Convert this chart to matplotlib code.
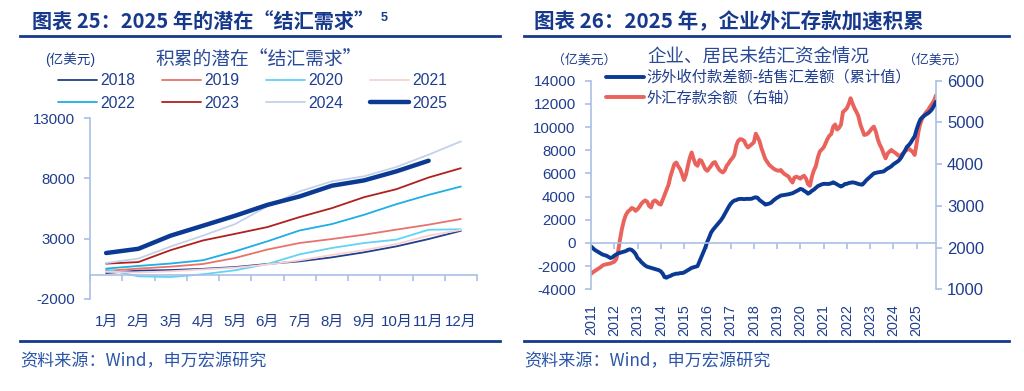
import numpy as np
import pandas as pd
import matplotlib
matplotlib.use('Agg')
import matplotlib.pyplot as plt
import matplotlib.dates as mdates
from matplotlib.lines import Line2D
from matplotlib.ticker import FixedLocator, FixedFormatter, NullFormatter

plt.rcParams['font.family'] = ['Liberation Sans', 'Noto Sans CJK SC']

# ---------------- data: left chart ----------------
months = ['1月', '2月', '3月', '4月', '5月', '6月', '7月', '8月', '9月', '10月', '11月', '12月']
y2018 = [150, 350, 400, 500, 650, 900, 1120, 1450, 1870, 2360, 2970, 3650]
y2019 = [330, 520, 680, 900, 1400, 2100, 2640, 2970, 3330, 3750, 4160, 4630]
y2020 = [450, -120, -180, 50, 380, 900, 1700, 2230, 2640, 2920, 3740, 3780]
y2021 = [250, 200, 300, 450, 600, 850, 1200, 1650, 2050, 2550, 3250, 3720]
y2022 = [520, 740, 940, 1210, 1950, 2780, 3680, 4210, 4980, 5860, 6630, 7320]
y2023 = [930, 1060, 2050, 2850, 3400, 3960, 4790, 5530, 6440, 7100, 8070, 8840]
y2024 = [980, 1350, 2350, 3250, 4210, 5680, 6920, 7750, 8170, 8940, 9960, 11060]
y2025 = [1810, 2160, 3250, 4070, 4900, 5800, 6500, 7390, 7830, 8580, 9460]
left_yticks = [-2000, 3000, 8000, 13000]

# ---------------- data: right chart (monthly, 2011-01 .. 2025-11) ----------------
net_receipts = [
    -300, -450, -600, -700, -800, -900, -1000, -1050, -1100, -1200, -1300, -1250,   # 2011
    -1100, -1000, -900, -850, -800, -750, -700, -600, -550, -600, -750, -950,       # 2012
    -1300, -1450, -1650, -1800, -1950, -2050, -2100, -2150, -2200, -2250, -2300, -2350,  # 2013
    -2450, -2650, -2950, -3000, -2900, -2850, -2750, -2700, -2650, -2650, -2600, -2600,  # 2014
    -2550, -2450, -2350, -2250, -2150, -2100, -2050, -2000, -1600, -1200, -800, -400,    # 2015
    100, 500, 900, 1150, 1350, 1550, 1750, 1950, 2200, 2500, 2800, 3100,            # 2016
    3370, 3550, 3660, 3700, 3780, 3800, 3800, 3780, 3800, 3800, 3800, 3820,         # 2017
    3900, 3940, 3900, 3700, 3580, 3450, 3310, 3350, 3400, 3480, 3650, 3780,         # 2018
    3900, 4000, 4090, 4120, 4150, 4170, 4200, 4250, 4290, 4380, 4470, 4550,         # 2019
    4660, 4620, 4500, 4400, 4250, 4350, 4500, 4600, 4750, 4900, 4980, 5050,         # 2020
    5100, 5100, 5090, 5100, 5150, 5230, 5150, 5050, 4950, 4870, 4950, 5090,         # 2021
    5100, 5170, 5200, 5230, 5200, 5150, 5090, 5050, 5030, 5200, 5400, 5550,         # 2022
    5700, 5850, 6000, 6050, 6090, 6120, 6150, 6170, 6300, 6420, 6510, 6620,         # 2023
    6780, 6900, 7000, 7140, 7350, 7660, 7950, 8290, 8450, 8660, 8950, 9200,         # 2024
    9800, 10300, 10660, 10850, 10980, 11100, 11200, 11350, 11550, 11850, 12170,     # 2025
]
fx_deposits = [
    1370, 1410, 1440, 1470, 1500, 1530, 1570, 1590, 1600, 1610, 1620, 1640,   # 2011
    1660, 1720, 1900, 2200, 2450, 2650, 2780, 2860, 2900, 2950, 2930, 2880,   # 2012
    2920, 2980, 3050, 3100, 3130, 3100, 3000, 2960, 3100, 3130, 3100, 3050,   # 2013
    3030, 3150, 3260, 3380, 3500, 3700, 3850, 4000, 4040, 3950, 3880, 3760,   # 2014
    3620, 3750, 3950, 4150, 4280, 4120, 4000, 3960, 4100, 4080, 3980, 3880,   # 2015
    3840, 3900, 3960, 4030, 4050, 3960, 3880, 3830, 3800, 3850, 3960, 4020,   # 2016
    4095, 4150, 4220, 4450, 4560, 4600, 4590, 4560, 4460, 4400, 4440, 4480,   # 2017
    4520, 4730, 4650, 4550, 4380, 4250, 4120, 4050, 3980, 3940, 3900, 3870,   # 2018
    3850, 3840, 3860, 3800, 3760, 3730, 3700, 3620, 3560, 3680, 3700, 3680,   # 2019
    3650, 3700, 3720, 3650, 3520, 3480, 3700, 3850, 3950, 4150, 4300, 4350,   # 2020
    4400, 4500, 4600, 4680, 4720, 4900, 4950, 4830, 4870, 4950, 5250, 5290,   # 2021
    5340, 5450, 5580, 5450, 5340, 5250, 5150, 4950, 4820, 4700, 4710, 4740,   # 2022
    4800, 4860, 4900, 4780, 4600, 4470, 4380, 4250, 4140, 4250, 4300, 4340,   # 2023
    4300, 4270, 4230, 4190, 4220, 4260, 4310, 4340, 4370, 4330, 4290, 4220,   # 2024
    4500, 4800, 4980, 5100, 5180, 5250, 5300, 5380, 5450, 5520, 5650,         # 2025
]
dates = pd.date_range('2011-01-01', periods=len(net_receipts), freq='MS')
right_left_ticks = list(range(-4000, 14001, 2000))
right_right_ticks = list(range(1000, 6001, 1000))

# ---------------- styles ----------------
W, H = 1024, 391
TC = '#1f3d8f'      # text colour
HC = '#17398c'      # header colour
AX = '#a9c0e6'      # axis colour
fig = plt.figure(figsize=(W / 100, H / 100), dpi=100)


def rect(x0, y0, x1, y1):
    return [x0 / W, 1 - y1 / H, (x1 - x0) / W, (y1 - y0) / H]


def fx(x):
    return x / W


def fy(y):
    return 1 - y / H


CJK = ['Noto Sans CJK SC', 'Liberation Sans']

# ---------------- headers ----------------
fig.text(fx(32), fy(22), '图表 25：2025 年的潜在“结汇需求”', family=CJK, fontsize=14.5,
         fontweight='bold', color=HC, va='center', ha='left')
fig.text(fx(381), fy(18), '5', fontsize=9, fontweight='bold', color=HC, va='center', ha='left')
fig.text(fx(534), fy(22), '图表 26：2025 年，企业外汇存款加速积累', family=CJK, fontsize=14.8,
         fontweight='bold', color=HC, va='center', ha='left')
for (a, b) in [(20, 500), (524, 1009)]:
    fig.add_artist(Line2D([fx(a), fx(b)], [fy(36), fy(36)], transform=fig.transFigure,
                          color=HC, lw=2))
    fig.add_artist(Line2D([fx(a), fx(b)], [fy(341), fy(341)], transform=fig.transFigure,
                          color=HC, lw=2))
fig.text(fx(20), fy(361), '资料来源：Wind，申万宏源研究', family=CJK, fontsize=12.3,
         color='#2b55a8', va='center', ha='left')
fig.text(fx(524), fy(361), '资料来源：Wind，申万宏源研究', family=CJK, fontsize=12.3,
         color='#2b55a8', va='center', ha='left')

# ---------------- left chart ----------------
ax1 = fig.add_axes(rect(90, 118, 477, 299))
series = [
    ('2018', y2018, '#213f8e', 1.3),
    ('2019', y2019, '#e8736c', 1.3),
    ('2020', y2020, '#62d2f5', 1.3),
    ('2021', y2021, '#f7d2d2', 1.3),
    ('2022', y2022, '#1eaee6', 1.3),
    ('2023', y2023, '#b0201e', 1.3),
    ('2024', y2024, '#c3d2e8', 1.3),
    ('2025', y2025, '#0b3a94', 3.2),
]
handles = {}
for name, vals, col, lw in series:
    (ln,) = ax1.plot(np.arange(len(vals)), vals, color=col, lw=lw, label=name,
                     solid_capstyle='round')
    handles[name] = ln
ax1.set_xlim(-0.5, 11.5)
ax1.set_ylim(-2000, 13000)
ax1.set_yticks(left_yticks)
ax1.set_yticklabels([str(v) for v in left_yticks])
for s in ['top', 'right']:
    ax1.spines[s].set_visible(False)
ax1.spines['left'].set_color(AX)
ax1.spines['left'].set_linewidth(1.2)
ax1.spines['bottom'].set_position(('data', 0))
ax1.spines['bottom'].set_color(AX)
ax1.spines['bottom'].set_linewidth(1.2)
ax1.xaxis.set_major_locator(FixedLocator(np.arange(-0.5, 12, 1)))
ax1.xaxis.set_major_formatter(NullFormatter())
ax1.xaxis.set_minor_locator(FixedLocator(np.arange(12)))
ax1.xaxis.set_minor_formatter(FixedFormatter(months))
ax1.tick_params(axis='x', which='major', length=4, color=AX, width=1.2, direction='out')
ax1.tick_params(axis='x', which='minor', length=0, pad=29, labelsize=10.8, labelcolor=TC)
ax1.tick_params(axis='y', length=4, color=AX, width=1.2, pad=7, labelsize=10.8, labelcolor=TC)
ax1.patch.set_visible(False)

fig.text(fx(45), fy(60), '(亿美元)', fontsize=9.8, color=TC, va='center', ha='left')
fig.text(fx(155), fy(60), '积累的潜在“结汇需求”', family=CJK, fontsize=13.5, color='#2a4a98',
         va='center', ha='left')
order = ['2018', '2022', '2019', '2023', '2020', '2024', '2021', '2025']
fig.legend([handles[k] for k in order], order, ncol=4, loc='upper left',
           bbox_to_anchor=(fx(58), fy(73)), frameon=False, fontsize=11.3,
           handlelength=2.5, handletextpad=0.2, columnspacing=1.7, labelspacing=0.5,
           borderaxespad=0, borderpad=0, labelcolor=TC)

# ---------------- right chart ----------------
ax2 = fig.add_axes(rect(591, 80.7, 936, 289.3))
ax2r = ax2.twinx()
(lb,) = ax2.plot(dates, net_receipts, color='#0b3a94', lw=2.8, solid_capstyle='round')
(lr,) = ax2r.plot(dates, fx_deposits, color='#ea625c', lw=2.8, solid_capstyle='round')
ax2.set_zorder(ax2r.get_zorder() + 1)
ax2.patch.set_visible(False)
ax2.set_xlim(dates[0], dates[-1])
ax2.set_ylim(-4000, 14000)
ax2r.set_ylim(1000, 6000)
ax2.set_yticks(right_left_ticks)
ax2.set_yticklabels([str(v) for v in right_left_ticks])
ax2r.set_yticks(right_right_ticks)
ax2r.set_yticklabels([str(v) for v in right_right_ticks])
ax2.xaxis.set_major_locator(mdates.YearLocator())
ax2.xaxis.set_major_formatter(mdates.DateFormatter('%Y'))
for s in ['top', 'right']:
    ax2.spines[s].set_visible(False)
for s in ['top', 'left', 'bottom']:
    ax2r.spines[s].set_visible(False)
ax2.spines['left'].set_color(AX)
ax2.spines['left'].set_linewidth(1.2)
ax2r.spines['right'].set_color(AX)
ax2r.spines['right'].set_linewidth(1.2)
ax2.spines['bottom'].set_position(('data', 0))
ax2.spines['bottom'].set_color(AX)
ax2.spines['bottom'].set_linewidth(1.2)
ax2.tick_params(axis='x', length=4, color=AX, width=1.2, pad=40, labelsize=10.3,
                labelcolor=TC, labelrotation=90)
ax2.tick_params(axis='y', length=4, color=AX, width=1.2, pad=7, labelsize=10.8, labelcolor=TC)
ax2r.tick_params(axis='y', length=4, color=AX, width=1.2, pad=4, labelsize=12, labelcolor=TC)

fig.text(fx(552), fy(60), '（亿美元）', family=CJK, fontsize=9.3, color=TC, va='center', ha='left')
fig.text(fx(903), fy(60), '（亿美元）', family=CJK, fontsize=9.3, color=TC, va='center', ha='left')
fig.text(fx(647), fy(58), '企业、居民未结汇资金情况', family=CJK, fontsize=13.3, color='#2a4a98',
         va='center', ha='left')
fig.legend([lb, lr], ['涉外收付款差额-结售汇差额（累计值）', '外汇存款余额（右轴）'],
           loc='upper left', bbox_to_anchor=(fx(606), fy(69)), frameon=False,
           handlelength=2.5, handletextpad=0.15, labelspacing=0.2, borderaxespad=0,
           borderpad=0, labelcolor=TC, prop={'family': CJK, 'size': 11})

fig.savefig('out.png', dpi=100)
